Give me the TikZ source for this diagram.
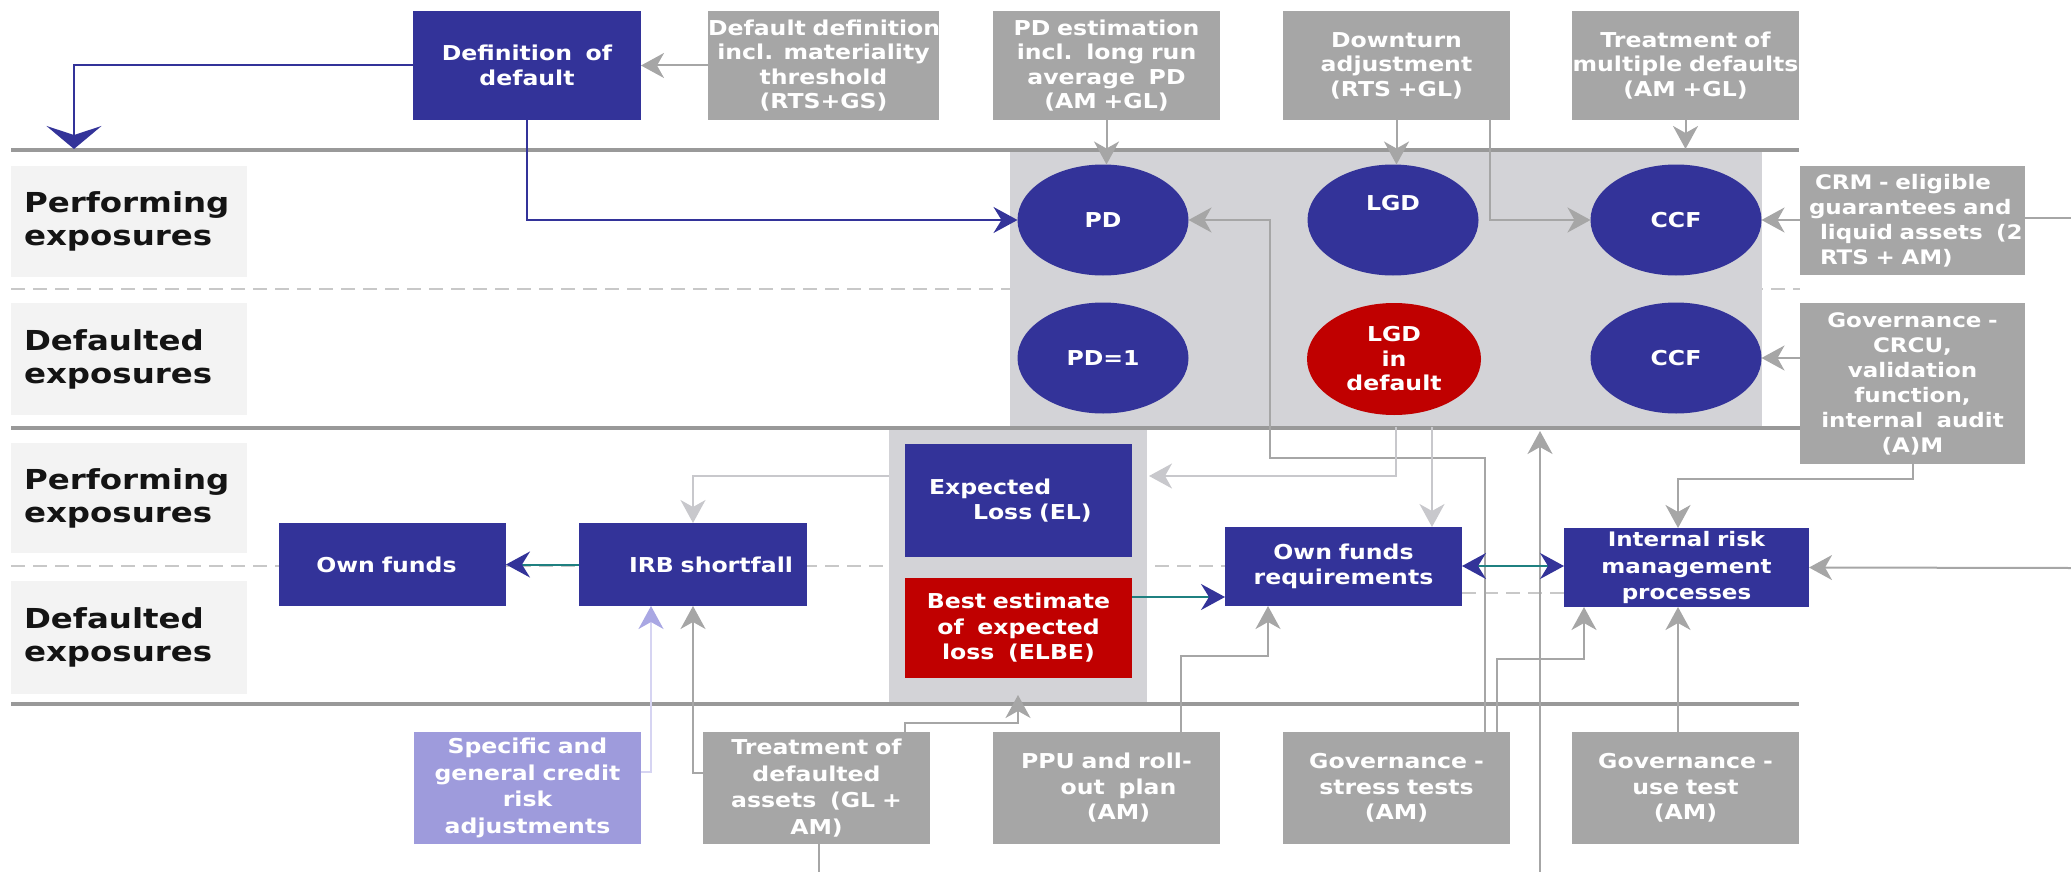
\documentclass[tikz,border=0pt]{standalone}
\usepackage{fontspec}
\setmainfont{DejaVu Sans}[FakeStretch=1.15]
\newfontfamily\heavyfont{DejaVu Sans}[FakeStretch=1.18]
\usetikzlibrary{arrows.meta,shapes.geometric}

\definecolor{navy}{HTML}{333399}
\definecolor{crimson}{HTML}{C00000}
\definecolor{boxgray}{HTML}{A6A6A6}
\definecolor{zonegray}{HTML}{D3D3D7}
\definecolor{labelbg}{HTML}{F3F3F3}
\definecolor{rulegray}{HTML}{999999}
\definecolor{wiregray}{HTML}{A6A6A6}
\definecolor{palewire}{HTML}{C8C8CC}
\definecolor{lavender}{HTML}{9E9BDC}
\definecolor{lavwire}{HTML}{D6D4F2}
\definecolor{lavtip}{HTML}{A9A7E3}
\definecolor{linkteal}{HTML}{1F8080}
\definecolor{dashgray}{HTML}{C8C8C8}

\tikzset{
  rulestroke/.style={draw=rulegray, line width=3.5pt},
  splitline/.style={draw=dashgray, line width=1.5pt, dash pattern=on 14pt off 8pt},
  zone/.style={fill=zonegray, draw=none, inner sep=0pt, outer sep=0pt},
  boxsize/.style 2 args={minimum width=#1pt, text width=#1pt, minimum height=#2pt},
  rowlabel/.style={fill=labelbg, inner sep=0pt, outer sep=0pt, minimum width=236pt,
    text width=210pt, align=left, text=black!92,
    font=\heavyfont\bfseries\fontsize{27.5}{33}\selectfont},
  graybox/.style={fill=boxgray, text=white, align=center, inner sep=0pt, outer sep=0pt,
    font=\bfseries\fontsize{20.5}{24.6}\selectfont},
  lavbox/.style={graybox, fill=lavender},
  navybox/.style={graybox, fill=navy, font=\bfseries\fontsize{20.5}{25.5}\selectfont},
  redbox/.style={navybox, fill=crimson},
  oval/.style={ellipse, fill=navy, text=white, inner sep=0pt, outer sep=0pt,
    minimum width=171pt, minimum height=111pt, align=center,
    font=\bfseries\fontsize{20.5}{24.5}\selectfont},
  gtipped/.style={-{Stealth[length=23pt,width=25pt,inset=7pt]}},
  gwire/.style={draw=wiregray, line width=2pt, gtipped},
  gline/.style={draw=wiregray, line width=2pt},
  pwire/.style={draw=palewire, line width=2pt, gtipped},
  lwire/.style={draw=lavwire, line width=2pt, -{Stealth[length=23pt,width=25pt,inset=7pt,color=lavtip]}},
  nwire/.style={draw=navy, line width=2pt, -{Stealth[length=24pt,width=26pt,inset=8pt]}},
  twire/.style={draw=linkteal, line width=2pt, -{Stealth[length=24pt,width=26pt,inset=8pt,color=navy]}},
  twin/.style={draw=linkteal, line width=2pt,
    {Stealth[length=24pt,width=26pt,inset=8pt,color=navy]}-{Stealth[length=24pt,width=26pt,inset=8pt,color=navy]}},
}

\begin{document}
\begin{tikzpicture}[x=1pt,y=-1pt]
\useasboundingbox (0,0) rectangle (2071,872);

% dashed separators between performing and defaulted rows
\draw[splitline] (11,289) -- (1800,289);
\draw[splitline] (11,566) -- (1225,566);
\draw[splitline] (1462,593) -- (1564,593);

% shaded zones
\node[zone, minimum width=752pt, minimum height=274pt] (topreg) at (1386,289) {};
\node[zone, minimum width=258pt, minimum height=273pt] (elreg) at (1018,566.5) {};

% horizontal rules
\draw[rulestroke] (11,150) -- (1799,150);
\draw[rulestroke] (11,428) -- (1800,428);
\draw[rulestroke] (11,704) -- (1799,704);

% row labels
\node[rowlabel, minimum height=111pt] (lp1) at (129,221.5) {Performing\\exposures};
\node[rowlabel, minimum height=112pt] (ld1) at (129,359) {Defaulted\\exposures};
\node[rowlabel, minimum height=110pt] (lp2) at (129,498) {Performing\\exposures};
\node[rowlabel, minimum height=113pt] (ld2) at (129,637.5) {Defaulted\\exposures};

% top row
\node[navybox, boxsize={228}{109}] (defn) at (527,65.5) {Definition\ \ of\\default};
\node[graybox, boxsize={231}{109}] (ddef) at (823.5,65.5) {\mbox{Default definition}\\incl. materiality\\threshold\\(RTS+GS)};
\node[graybox, boxsize={227}{109}] (pdest) at (1106.5,65.5) {PD estimation\\incl.\ \ long run\\average\ \ PD\\(AM +GL)};
\node[graybox, boxsize={227}{109}] (downturn) at (1396.5,65.5) {Downturn\\adjustment\\(RTS +GL)\\[4pt]};
\node[graybox, boxsize={227}{109}] (multdef) at (1685.5,65.5) {Treatment of\\\mbox{multiple defaults}\\(AM +GL)\\[4pt]};

% risk parameters
\node[oval] (PD) at (1103,220) {PD};
\node[oval] (LGD) at (1393,220) {LGD\\[10pt]};
\node[oval] (CCF) at (1676,220) {CCF};
\node[oval] (PD1) at (1103,358) {PD=1};
\node[oval, fill=crimson, minimum width=174pt, minimum height=112pt] (LGDd) at (1394,359) {LGD\\in\\default};
\node[oval] (CCF2) at (1676,358) {CCF};

% right-hand boxes
\node[graybox, boxsize={225}{109}, align=left, font=\bfseries\fontsize{20}{25}\selectfont] (crm) at (1912.5,220.5)
  {\hspace*{15pt}CRM - eligible\\\hspace*{9pt}\mbox{guarantees and}\\\hspace*{20pt}\mbox{liquid assets\ \ (2}\\\hspace*{20pt}RTS + AM)\\[6pt]};
\node[graybox, boxsize={225}{161}, font=\bfseries\fontsize{20}{25}\selectfont] (gov) at (1912.5,383.5)
  {Governance -\\CRCU,\\validation\\function,\\\mbox{internal\ \ audit}\\(A)M};

% middle band
\node[navybox, boxsize={227}{83}] (OF) at (392.5,564.5) {Own funds\hspace*{12pt}};
\node[navybox, boxsize={228}{83}] (IRB) at (693,564.5) {\hspace*{36pt}IRB shortfall};
\node[navybox, boxsize={227}{113}, align=left] (EL) at (1018.5,500.5)
  {\hspace*{24pt}Expected\\\hspace*{68pt}Loss (EL)};
\node[redbox, boxsize={227}{100}] (ELBE) at (1018.5,628) {Best estimate\\of\ \ expected\\loss\ \ (ELBE)};
\node[navybox, boxsize={237}{79}] (OFR) at (1343.5,566.5) {Own funds\\requirements};
\node[navybox, boxsize={245}{79}, font=\bfseries\fontsize{20}{26.5}\selectfont] (IR) at (1686.5,567.5)
  {Internal risk\\management\\processes};

% bottom row
\node[lavbox, boxsize={227}{112}, font=\bfseries\fontsize{20.5}{26.5}\selectfont] (spec) at (527.5,788) {Specific and\\\mbox{general credit}\\risk\\adjustments};
\node[graybox, boxsize={227}{112}, font=\bfseries\fontsize{20.5}{26.5}\selectfont] (treat) at (816.5,788) {Treatment of\\defaulted\\\mbox{assets\ \ (GL +}\\AM)};
\node[graybox, boxsize={227}{112}, font=\bfseries\fontsize{20.5}{25.5}\selectfont] (ppu) at (1106.5,788) {PPU and roll-\\\hspace*{24pt}out\ \ plan\\\hspace*{24pt}(AM)};
\node[graybox, boxsize={227}{112}, font=\bfseries\fontsize{20.5}{25.5}\selectfont] (stress) at (1396.5,788) {Governance -\\stress tests\\(AM)};
\node[graybox, boxsize={227}{112}, font=\bfseries\fontsize{20.5}{25.5}\selectfont] (use) at (1685.5,788) {Governance -\\use test\\(AM)};

% free ends and bends
\coordinate (dtip) at (74,149);
\coordinate (mtip) at (1685.5,149);
\coordinate (rightedge) at (2071,0);
\coordinate (irin) at (2071,568);
\coordinate (bin) at (1540,872);
\coordinate (btip) at (1540,431);
\coordinate (bend1) at (1270,458);
\coordinate (bend2) at (1584,659);
\coordinate (bend3) at (1678,479);
\coordinate (lgA) at (1396,427);
\coordinate (lgB) at (1432,427);
\coordinate (elin) at (1149,476);
\coordinate (elout) at (889,476);
\coordinate (spbend) at (651,606);
\coordinate (tbend) at (1018,723);
\coordinate (pbend) at (1268,656);
\coordinate (trout) at (819,872);
\coordinate (ey) at (0,597);
\coordinate (oy) at (0,566);

% connectors: top band
\draw[nwire, -{Stealth[length=23pt,width=55pt,inset=9pt]}] (defn.west) -| (dtip);
\draw[nwire] (defn.south) |- (PD.west);
\draw[gwire] (ddef.west) -- (defn.east);
\draw[gwire] (pdest.south) -- (pdest.south |- PD.north);
\draw[gwire] (downturn.south) -- (downturn.south |- LGD.north);
\draw[gwire] ([xshift=-20pt]downturn.south east) |- (CCF.west);
\draw[gwire] (multdef.south) -- (mtip);
\draw[gwire] (crm.west |- CCF.east) -- (CCF.east);
\draw[gline] (crm.east |- 0,218) -- (rightedge |- 0,218);
\draw[gwire] (gov.west |- CCF2.east) -- (CCF2.east);

% connectors: governance and testing feedback
\draw[gwire] ([xshift=-25pt]stress.north east) |- (bend1) |- (PD.east);
\draw[gwire] ([xshift=-13pt]stress.north east) |- (bend2) -- (bend2 |- IR.south);
\draw[gwire] ([xshift=-7.5pt]use.north) -- ([xshift=-7.5pt]use.north |- IR.south);
\draw[gwire] (gov.south) |- (bend3) -- (bend3 |- IR.north);
\draw[gwire] (irin) -- (IR.east);
\draw[gwire] (bin) -- (btip);

% connectors: losses and own funds
\draw[pwire] (lgA) |- (elin);
\draw[pwire] (lgB) -- (lgB |- OFR.north);
\draw[pwire] (elout) -| (IRB.north);
\draw[twire] (IRB.west) -- (OF.east);
\draw[lwire] ([yshift=16pt]spec.east) -| (spbend);
\draw[gwire] ([yshift=15pt]treat.west) -| (IRB.south);
\draw[gwire] ([xshift=88.5pt]treat.north) |- (tbend) -- ([yshift=8pt]elreg.south -| tbend);
\draw[gline] ([xshift=2.5pt]treat.south) -- (trout);
\draw[gwire] ([xshift=74.5pt]ppu.north) |- (pbend) -- (pbend |- OFR.south);
\draw[twire] (ELBE.east |- ey) -- (OFR.west |- ey);
\draw[twin] (OFR.east |- oy) -- (IR.west |- oy);
\end{tikzpicture}
\end{document}
